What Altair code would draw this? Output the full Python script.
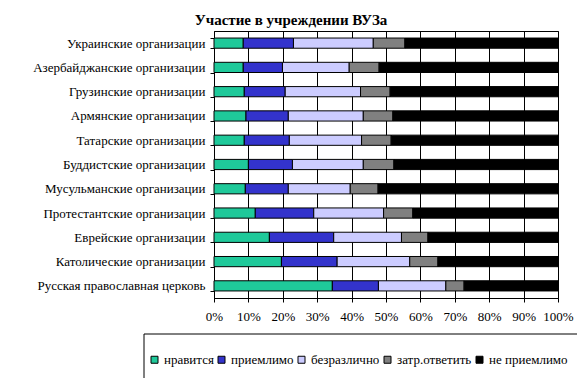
import altair as alt
import pandas as pd

categories = [
    "Украинские организации",
    "Азербайджанские организации",
    "Грузинские организации",
    "Армянские организации",
    "Татарские организации",
    "Буддистские организации",
    "Мусульманские организации",
    "Протестантские организации",
    "Еврейские организации",
    "Католические организации",
    "Русская православная церковь",
]
series = ["нравится", "приемлимо", "безразлично", "затр.ответить", "не приемлимо"]
colors = ["#1FC99A", "#3333CC", "#CCCCFF", "#808080", "#000000"]

like =        [8.5, 8.5, 8.8, 9.3, 8.8, 10.0, 9.1, 12.0, 16.1, 19.6, 34.4]
acceptable =  [14.6, 11.4, 11.9, 12.3, 13.1, 12.8, 12.5, 17.0, 18.7, 16.2, 13.4]
indifferent = [23.2, 19.4, 21.9, 21.8, 21.0, 20.6, 18.0, 20.3, 19.7, 21.1, 19.6]
hard =        [9.2, 8.7, 8.6, 8.6, 8.6, 8.9, 8.1, 8.5, 7.7, 8.2, 5.3]
unacceptable = [44.5, 52.0, 48.8, 48.0, 48.5, 47.7, 52.3, 42.2, 37.8, 34.9, 27.3]
x_ticks = [0, 10, 20, 30, 40, 50, 60, 70, 80, 90, 100]

values = [like, acceptable, indifferent, hard, unacceptable]
rows = []
for i, c in enumerate(categories):
    for j, s in enumerate(series):
        rows.append({"cat": c, "series": s, "ord": j, "value": values[j][i]})
df = pd.DataFrame(rows)

FONT = "Liberation Serif"

bars = alt.Chart(df).mark_bar(stroke="black", strokeWidth=1).encode(
    y=alt.Y(
        "cat:N",
        sort=categories,
        title=None,
        scale=alt.Scale(paddingInner=0.58, paddingOuter=0.29),
        axis=alt.Axis(
            tickBand="extent", tickSize=4, labelPadding=5, grid=False,
            labelFontSize=13,
        ),
    ),
    x=alt.X(
        "value:Q",
        stack="normalize",
        title=None,
        scale=alt.Scale(domain=[0, 1]),
        axis=alt.Axis(
            format=".0%", values=[v / 100 for v in x_ticks],
            tickSize=4, grid=True, gridColor="black", gridWidth=1, gridOpacity=1,
            labelPadding=8, labelFontSize=13,
            labelOverlap=False, labelFlush=False,
        ),
    ),
    color=alt.Color(
        "series:N",
        scale=alt.Scale(domain=series, range=colors),
        legend=alt.Legend(
            title=None, orient="none", legendX=-66, legendY=322,
            direction="horizontal", columns=5,
            symbolType="square", symbolSize=49,
            symbolStrokeColor="black", symbolStrokeWidth=1,
            labelFont=FONT, labelFontSize=13, labelColor="black",
            labelOffset=3, columnPadding=1, padding=0,
        ),
    ),
    order=alt.Order("ord:Q"),
)

frame = alt.Chart(pd.DataFrame({"a": [0]})).mark_rect(
    fillOpacity=0, stroke="black", strokeWidth=1
).encode(
    x=alt.value(-70), x2=alt.value(366), y=alt.value(303), y2=alt.value(351)
)

chart = alt.layer(bars, frame).properties(
    width=344,
    height=267,
    title=alt.TitleParams(
        "Участие в учреждении ВУЗа", font=FONT, fontSize=15, fontWeight="bold",
        color="black", anchor="middle", frame="group", dx=-95, dy=8, offset=5,
    ),
    autosize=alt.AutoSizeParams(type="none"),
    padding={"left": 206, "top": 23, "right": 19, "bottom": 80},
).configure_view(
    stroke="black", strokeWidth=1
).configure_axis(
    labelFont=FONT, labelColor="black", tickColor="black", domainColor="black",
)

chart.save("out.html", embed_options={"renderer": "svg", "actions": False})
